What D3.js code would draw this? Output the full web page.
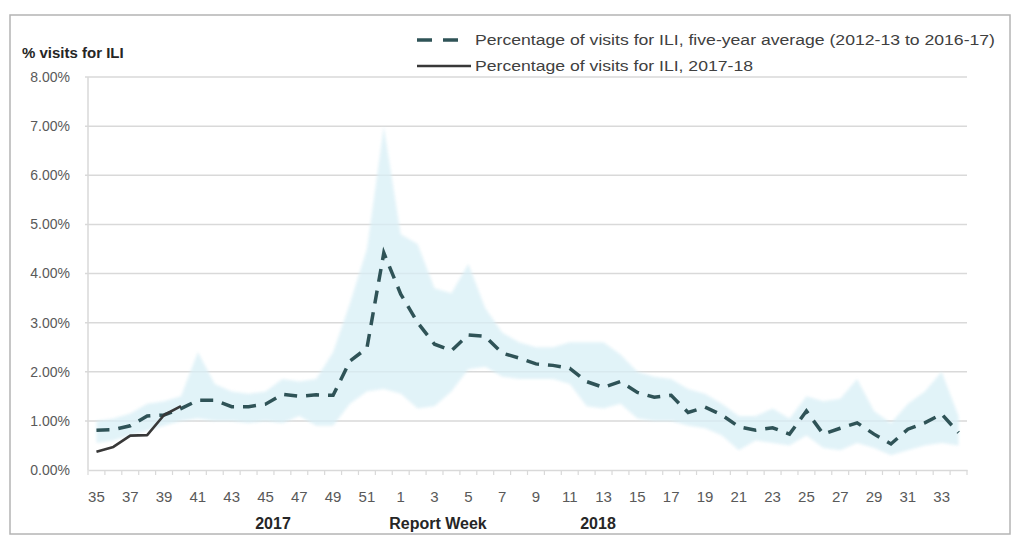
<!DOCTYPE html>
<html>
<head>
<meta charset="utf-8">
<script src="https://cdn.jsdelivr.net/npm/d3@7"></script>
<style>
  html, body { margin: 0; padding: 0; background: #fff; }
  svg { display: block; font-family: "Liberation Sans", Arial, sans-serif; }
</style>
</head>
<body>
<svg id="chart" width="1012" height="540"></svg>
<script>
// Report weeks of the season: 35–52 of 2017, then 1–34 of 2018
const weeks = [35,36,37,38,39,40,41,42,43,44,45,46,47,48,49,50,51,52,
               1,2,3,4,5,6,7,8,9,10,11,12,13,14,15,16,17,18,19,20,21,22,23,24,25,26,27,28,29,30,31,32,33,34];

// Five-year average % of visits for ILI (2012-13 to 2016-17)
const fiveYearAvg = [0.81,0.82,0.90,1.10,1.12,1.25,1.42,1.42,1.29,1.29,1.34,1.54,1.50,1.53,1.52,2.22,2.48,4.42,
                     3.58,3.00,2.56,2.43,2.75,2.72,2.38,2.28,2.16,2.13,2.07,1.80,1.68,1.80,1.58,1.48,1.52,1.17,1.28,1.12,
                     0.88,0.81,0.86,0.73,1.20,0.73,0.85,0.96,0.73,0.53,0.83,0.96,1.14,0.76];

// Range of the five seasons (shaded band)
const rangeHigh = [1.00,1.05,1.15,1.35,1.40,1.50,2.40,1.75,1.60,1.55,1.60,1.85,1.80,1.85,2.40,3.40,4.50,7.00,
                   4.80,4.60,3.70,3.60,4.20,3.30,2.80,2.60,2.50,2.50,2.60,2.60,2.60,2.35,2.00,1.90,1.85,1.65,1.55,1.35,
                   1.10,1.10,1.25,1.05,1.50,1.40,1.45,1.85,1.20,0.95,1.35,1.60,2.00,1.10];
const rangeLow  = [0.55,0.60,0.70,0.80,0.90,1.00,1.05,1.00,1.00,0.95,1.00,0.95,1.10,0.90,0.90,1.35,1.60,1.65,
                   1.55,1.25,1.30,1.60,2.05,2.10,1.90,1.85,1.85,1.85,1.75,1.30,1.25,1.35,1.05,1.00,1.00,0.90,0.85,0.70,
                   0.40,0.60,0.55,0.50,0.70,0.45,0.40,0.55,0.45,0.30,0.40,0.50,0.55,0.50];

// Current season 2017-18 (reported weeks so far)
const season2017 = [0.37,0.47,0.70,0.71,1.12,1.30];

const yTicks = [0,1,2,3,4,5,6,7,8];
const legendLabels = [
  "Percentage of visits for ILI, five-year average (2012-13 to 2016-17)",
  "Percentage of visits for ILI, 2017-18"
];

const svg = d3.select("#chart");
const plotLeft = 88, plotRight = 967, plotTop = 77, plotBottom = 470;

// soft edge for the range band
const defs = svg.append("defs");
defs.append("filter").attr("id", "soft")
  .attr("x", "-5%").attr("y", "-5%").attr("width", "110%").attr("height", "110%")
  .append("feGaussianBlur").attr("stdDeviation", 1.6);

// outer frame
svg.append("rect")
  .attr("x", 10).attr("y", 15).attr("width", 1000).attr("height", 519)
  .attr("fill", "none").attr("stroke", "#b4b4b4").attr("stroke-width", 1.5);

const x = d3.scaleBand().domain(weeks.map(String)).range([plotLeft, plotRight]).padding(0);
const cx = w => x(String(w)) + x.bandwidth() / 2;
const y = d3.scaleLinear().domain([0, 8]).range([plotBottom, plotTop]);

// horizontal gridlines
svg.append("g").selectAll("line")
  .data(yTicks.filter(t => t > 0))
  .join("line")
  .attr("x1", plotLeft - 3).attr("x2", plotRight)
  .attr("y1", d => y(d)).attr("y2", d => y(d))
  .attr("stroke", "#d9d9d9").attr("stroke-width", 1.5);

// range band
const band = d3.area()
  .x((d, i) => cx(weeks[i]))
  .y0((d, i) => y(rangeLow[i]))
  .y1((d, i) => y(rangeHigh[i]));
svg.append("path")
  .datum(rangeHigh)
  .attr("d", band)
  .attr("fill", "#d8eff6")
  .attr("opacity", 0.75)
  .attr("filter", "url(#soft)");

// y axis
const yAxis = svg.append("g")
  .attr("transform", `translate(${plotLeft},0)`)
  .call(d3.axisLeft(y).tickValues(yTicks).tickSize(0).tickPadding(18)
        .tickFormat(d => d.toFixed(2) + "%"));
yAxis.select(".domain").remove();
yAxis.selectAll("text")
  .attr("fill", "#595959").style("font-size", "14px");
svg.append("line")
  .attr("x1", plotLeft).attr("x2", plotLeft).attr("y1", plotTop).attr("y2", plotBottom)
  .attr("stroke", "#d9d9d9").attr("stroke-width", 1.5);

// x axis
const xAxis = svg.append("g")
  .attr("transform", `translate(0,${plotBottom})`)
  .call(d3.axisBottom(x).tickSize(0).tickPadding(21)
        .tickFormat((d, i) => (i % 2 === 0 ? d : "")));
xAxis.select(".domain").attr("stroke", "#d9d9d9").attr("stroke-width", 1.5);
xAxis.selectAll("text").attr("fill", "#595959").style("font-size", "15px");

// category boundary tick marks
const boundaries = weeks.map(w => x(String(w))).concat([plotRight]);
svg.append("g").selectAll("line")
  .data(boundaries)
  .join("line")
  .attr("x1", d => d).attr("x2", d => d)
  .attr("y1", plotBottom).attr("y2", plotBottom + 5)
  .attr("stroke", "#d9d9d9").attr("stroke-width", 1.2);

// five-year average (dashed)
const seriesLine = d3.line()
  .x((d, i) => cx(weeks[i]))
  .y(d => y(d));
svg.append("path")
  .datum(fiveYearAvg)
  .attr("d", seriesLine)
  .attr("fill", "none")
  .attr("stroke", "#2f5357")
  .attr("stroke-width", 3.5)
  .attr("stroke-dasharray", "13,9");

// current season (solid)
svg.append("path")
  .datum(season2017)
  .attr("d", seriesLine)
  .attr("fill", "none")
  .attr("stroke", "#383838")
  .attr("stroke-width", 2.6)
  .attr("stroke-linejoin", "round");

// y axis title
svg.append("text")
  .attr("x", 22).attr("y", 58)
  .attr("font-weight", "bold").style("font-size", "15px")
  .attr("fill", "#262626")
  .text("% visits for ILI");

// x axis captions
const captions = [["2017", 273], ["Report Week", 438], ["2018", 598]];
svg.append("g").selectAll("text")
  .data(captions)
  .join("text")
  .attr("x", d => d[1])
  .attr("y", 529)
  .attr("text-anchor", "middle")
  .attr("font-weight", "bold").style("font-size", "16px")
  .attr("fill", "#262626")
  .text(d => d[0]);

// legend
const lg = svg.append("g");
lg.append("line")
  .attr("x1", 417).attr("x2", 458).attr("y1", 40).attr("y2", 40)
  .attr("stroke", "#2f5357").attr("stroke-width", 3.5)
  .attr("stroke-dasharray", "15,11");
lg.append("line")
  .attr("x1", 417).attr("x2", 471).attr("y1", 66).attr("y2", 66)
  .attr("stroke", "#383838").attr("stroke-width", 2.6);
lg.selectAll("text")
  .data(legendLabels)
  .join("text")
  .attr("x", 475)
  .attr("y", (d, i) => 45 + i * 26)
  .attr("fill", "#404040")
  .style("font-size", "14px")
  .attr("textLength", (d, i) => i === 0 ? 520 : 278)
  .attr("lengthAdjust", "spacingAndGlyphs")
  .text(d => d);
</script>
</body>
</html>
